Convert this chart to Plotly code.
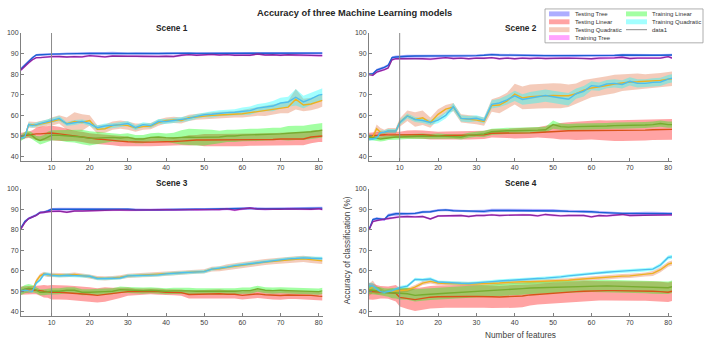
import plotly.graph_objects as go

# ---------------- data ----------------
X = [2, 3, 4, 5, 6, 7, 8, 9, 10,
     12, 14, 16, 18, 20, 22, 24, 26, 28, 30,
     32, 34, 36, 38, 40, 42, 44, 46, 48, 50,
     52, 54, 56, 58, 60, 62, 64, 66, 68, 70,
     72, 74, 76, 78, 80, 81]

TITLE = "Accuracy of three Machine Learning models"
SCENE_TITLES = ["Scene 1", "Scene 2", "Scene 3", "Scene 4"]
MODEL_NAMES = ["Testing Tree", "Testing Linear", "Testing Quadratic",
               "Training Tree", "Training Linear", "Training Quadratic"]
LINE_COLORS = ["#1a5fd1", "#D95319", "#EDB120", "#862a9e", "#77AC30", "#4DBEEE"]
BAND_COLORS = ["rgba(0,0,255,0.32)", "rgba(255,0,0,0.36)", "rgba(217,83,25,0.30)",
               "rgba(255,0,255,0.36)", "rgba(0,255,0,0.36)", "rgba(0,255,255,0.36)"]
MARKER_NAME = "data1"
MARKER_X = 10
XLIM = [2, 81]
YLIM = [38, 100]
XTICKS = [10, 20, 30, 40, 50, 60, 70, 80]
YTICKS = [40, 50, 60, 70, 80, 90, 100]
XLABEL = "Number of features"
YLABEL = "Accuracy of classification (%)"

# ---- Scene 1 ----
s1_test_tree = [82.5, 84.5, 86.2, 88.0, 89.3, 89.5, 89.5, 89.6, 89.7,
                89.8, 90.0, 89.9, 90.0, 90.1, 90.0, 90.1, 90.2, 90.0, 90.0,
                90.1, 90.0, 90.0, 90.0, 90.1, 90.1, 90.0, 90.2, 90.1, 90.1,
                90.0, 90.1, 90.2, 90.1, 90.2, 90.2, 90.1, 90.2, 90.2, 90.2,
                90.2, 90.2, 90.2, 90.2, 90.2, 90.2]
s1_test_tree_hw = [0.8, 0.8, 0.7, 0.6, 0.5, 0.5, 0.5, 0.5, 0.5,
                   0.5, 0.5, 0.5, 0.6, 0.6, 0.6, 0.7, 0.7, 0.6, 0.5,
                   0.5, 0.5, 0.5, 0.5, 0.5, 0.5, 0.5, 0.5, 0.5, 0.5,
                   0.5, 0.5, 0.5, 0.5, 0.5, 0.5, 0.6, 0.6, 0.6, 0.6,
                   0.6, 0.6, 0.6, 0.6, 0.6, 0.6]
s1_test_lin = [50.0, 50.3, 50.5, 50.8, 51.0, 51.0, 51.2, 51.3, 51.4,
               51.0, 50.5, 50.0, 49.5, 48.8, 48.5, 48.2, 48.0, 47.5, 47.2,
               47.0, 47.0, 47.0, 47.0, 47.2, 47.3, 47.5, 47.8, 48.0, 48.0,
               48.0, 48.0, 48.0, 48.0, 48.0, 48.2, 48.2, 48.3, 48.3, 48.5,
               48.5, 48.5, 48.5, 49.5, 50.0, 50.0]
s1_test_lin_hw = [1.5, 1.5, 1.5, 2.0, 3.0, 3.5, 3.5, 3.5, 3.5,
                  3.5, 3.0, 2.5, 2.5, 2.5, 2.5, 2.5, 2.5, 2.5, 2.5,
                  2.0, 2.0, 2.0, 2.0, 2.0, 2.0, 2.0, 2.5, 2.5, 3.0,
                  3.0, 3.0, 3.0, 3.0, 3.0, 3.0, 3.0, 3.0, 3.0, 3.0,
                  3.0, 3.0, 3.0, 3.0, 3.0, 3.0]
s1_test_quad = [49.0, 49.5, 55.5, 55.5, 55.3, 55.8, 56.0, 56.5, 57.0,
                58.0, 56.0, 57.0, 56.5, 57.5, 53.2, 53.5, 55.0, 55.5, 55.0,
                54.0, 54.5, 54.8, 56.5, 57.5, 57.8, 57.5, 58.8, 59.3, 59.8,
                60.0, 60.2, 60.3, 60.5, 60.8, 61.3, 61.8, 62.2, 62.8, 63.5,
                64.0, 67.8, 65.0, 65.5, 66.5, 67.3]
s1_test_quad_hw = [1.0, 1.0, 1.5, 1.5, 1.5, 1.5, 1.5, 1.5, 2.0,
                   2.0, 3.0, 4.5, 4.0, 2.5, 2.0, 2.0, 2.0, 2.0, 2.0,
                   2.0, 1.5, 1.5, 1.5, 1.5, 1.5, 1.5, 1.5, 1.5, 1.5,
                   1.5, 1.5, 1.5, 1.5, 1.8, 2.0, 2.0, 2.5, 2.5, 2.5,
                   3.0, 5.0, 3.0, 3.0, 3.0, 3.0]
s1_train_tree = [82.0, 84.0, 85.5, 87.0, 88.0, 88.0, 88.2, 88.3, 88.5,
                 88.6, 88.3, 88.5, 88.4, 89.0, 88.6, 88.4, 88.8, 88.6, 88.7,
                 88.7, 88.6, 88.8, 88.6, 88.7, 88.6, 89.2, 89.5, 89.2, 89.3,
                 89.6, 89.3, 89.5, 89.2, 89.3, 89.2, 89.8, 89.3, 89.4, 89.2,
                 89.4, 89.2, 89.3, 89.1, 89.0, 89.0]
s1_train_tree_hw = [0.6, 0.6, 0.6, 0.5, 0.5, 0.5, 0.5, 0.5, 0.5,
                    0.5, 0.5, 0.5, 0.5, 0.5, 0.5, 0.5, 0.5, 0.5, 0.5,
                    0.5, 0.5, 0.5, 0.5, 0.5, 0.5, 0.5, 0.5, 0.5, 0.5,
                    0.5, 0.5, 0.5, 0.5, 0.5, 0.5, 0.5, 0.5, 0.5, 0.5,
                    0.5, 0.5, 0.5, 0.5, 0.5, 0.5]
s1_train_lin = [49.0, 50.5, 51.0, 50.0, 48.5, 47.8, 48.5, 49.5, 50.3,
                50.3, 50.0, 49.8, 49.5, 48.8, 49.0, 49.2, 49.3, 49.0, 49.3,
                48.5, 48.5, 49.3, 49.5, 49.2, 49.0, 49.3, 49.5, 49.3, 49.3,
                49.5, 49.5, 50.0, 50.0, 50.4, 50.5, 50.5, 50.8, 51.0, 51.0,
                51.3, 51.5, 51.5, 52.0, 52.5, 52.8]
s1_train_lin_hw = [1.5, 1.5, 1.5, 1.5, 1.5, 2.0, 2.0, 2.5, 2.5,
                   2.5, 3.0, 3.0, 3.5, 3.5, 3.0, 2.5, 2.0, 2.0, 2.0,
                   2.0, 2.0, 2.0, 2.0, 2.0, 2.5, 3.5, 4.0, 4.0, 4.0,
                   3.5, 3.0, 3.0, 3.0, 3.0, 3.0, 3.0, 3.0, 3.0, 3.0,
                   3.5, 3.5, 3.5, 3.5, 3.5, 3.5]
s1_train_quad = [49.0, 49.5, 55.5, 55.0, 55.5, 56.0, 56.5, 57.0, 57.5,
                 58.5, 55.8, 56.5, 57.0, 56.0, 54.0, 54.8, 55.0, 55.5, 56.0,
                 54.0, 55.5, 55.0, 57.0, 57.0, 57.5, 58.0, 58.5, 59.5, 60.3,
                 60.5, 61.0, 61.3, 61.5, 62.0, 62.3, 63.5, 64.0, 64.5, 66.0,
                 66.5, 68.8, 66.5, 68.0, 69.8, 70.2]
s1_train_quad_hw = [0.8, 0.8, 1.0, 1.0, 1.0, 1.0, 1.0, 1.0, 1.0,
                    1.2, 1.0, 1.2, 1.0, 1.2, 1.2, 1.2, 1.2, 1.2, 1.2,
                    1.2, 1.2, 1.2, 1.2, 1.2, 1.2, 1.2, 1.2, 1.2, 1.2,
                    1.5, 1.5, 1.5, 1.5, 1.8, 2.0, 2.0, 2.0, 2.5, 2.5,
                    2.5, 4.0, 3.0, 3.0, 3.0, 3.0]

# ---- Scene 2 ----
s2_test_tree = [80.0, 80.2, 82.0, 82.5, 83.3, 84.3, 88.0, 88.3, 88.5,
                88.7, 88.8, 88.8, 88.8, 88.9, 88.8, 88.9, 88.9, 88.9, 89.0,
                89.2, 89.5, 89.3, 89.2, 89.1, 89.0, 89.0, 89.0, 89.0, 89.0,
                89.0, 89.0, 88.9, 89.0, 89.0, 89.0, 89.0, 89.1, 89.3, 89.2,
                89.1, 89.1, 89.2, 89.2, 89.3, 89.3]
s2_test_tree_hw = [0.5, 0.5, 0.6, 0.6, 0.6, 0.6, 0.7, 0.7, 0.7,
                   0.7, 0.6, 0.6, 0.6, 0.6, 0.6, 0.6, 0.6, 0.6, 0.6,
                   0.6, 0.6, 0.6, 0.6, 0.6, 0.6, 0.6, 0.6, 0.6, 0.6,
                   0.6, 0.6, 0.6, 0.6, 0.6, 0.6, 0.6, 0.6, 0.6, 0.6,
                   0.6, 0.6, 0.6, 0.6, 0.6, 0.6]
s2_test_lin = [50.0, 50.2, 50.3, 50.5, 50.6, 50.5, 50.5, 50.5, 50.5,
               50.8, 50.8, 50.6, 50.3, 50.0, 50.2, 50.3, 50.3, 50.3, 50.3,
               50.5, 51.3, 51.3, 51.2, 51.2, 51.3, 51.5, 51.7, 52.0, 52.3,
               52.3, 52.5, 52.5, 52.7, 52.8, 52.8, 52.7, 52.6, 52.5, 52.5,
               52.6, 52.8, 53.0, 53.0, 53.2, 53.2]
s2_test_lin_hw = [1.5, 1.5, 1.5, 1.5, 1.5, 1.5, 1.5, 1.5, 1.5,
                  1.8, 2.0, 2.0, 2.0, 2.0, 2.0, 2.0, 2.0, 2.0, 2.0,
                  2.0, 2.0, 2.0, 2.2, 2.5, 2.5, 2.5, 2.5, 3.0, 3.5,
                  4.0, 4.2, 4.5, 4.5, 4.5, 4.8, 4.8, 5.0, 5.0, 5.0,
                  5.0, 5.0, 5.0, 5.0, 5.0, 5.0]
s2_test_quad = [49.2, 49.5, 53.5, 51.8, 51.5, 52.4, 52.4, 52.4, 56.5,
                59.8, 58.0, 58.8, 56.5, 60.5, 63.0, 64.0, 58.5, 58.2, 57.7,
                57.0, 64.8, 65.0, 67.0, 70.3, 68.5, 69.0, 69.3, 69.5, 69.6,
                69.5, 69.5, 70.5, 72.2, 73.3, 73.8, 74.5, 75.2, 75.8, 76.2,
                76.3, 76.5, 76.6, 77.0, 77.6, 77.8]
s2_test_quad_hw = [1.5, 1.5, 2.0, 2.0, 1.5, 1.5, 1.5, 1.5, 2.0,
                   2.5, 3.5, 3.5, 2.5, 2.5, 2.0, 2.0, 2.0, 2.0, 2.0,
                   2.0, 3.0, 4.0, 4.0, 5.0, 5.5, 6.0, 6.0, 6.0, 6.0,
                   6.0, 5.5, 5.0, 5.0, 4.5, 4.5, 4.5, 4.5, 4.0, 4.0,
                   4.0, 3.5, 3.5, 3.5, 3.5, 3.5]
s2_train_tree = [79.8, 79.5, 81.0, 81.5, 82.2, 83.0, 87.0, 87.5, 87.5,
                 87.6, 87.8, 87.5, 87.3, 87.8, 88.0, 87.6, 87.8, 87.5, 87.8,
                 87.7, 88.0, 87.5, 87.8, 87.5, 87.8, 87.6, 87.8, 87.6, 87.8,
                 87.7, 87.8, 87.7, 87.8, 87.5, 87.8, 87.7, 87.9, 88.2, 87.6,
                 87.8, 87.7, 87.9, 87.8, 88.5, 87.8]
s2_train_tree_hw = [0.5, 0.5, 0.5, 0.5, 0.5, 0.5, 0.5, 0.5, 0.5,
                    0.5, 0.5, 0.5, 0.5, 0.5, 0.5, 0.5, 0.5, 0.5, 0.5,
                    0.5, 0.5, 0.5, 0.5, 0.5, 0.5, 0.5, 0.5, 0.5, 0.5,
                    0.5, 0.5, 0.5, 0.5, 0.5, 0.5, 0.5, 0.5, 0.5, 0.5,
                    0.5, 0.5, 0.5, 0.5, 0.5, 0.5]
s2_train_lin = [49.5, 49.0, 48.8, 48.5, 48.8, 49.2, 49.5, 49.5, 49.5,
                49.7, 50.0, 50.0, 49.8, 50.0, 49.8, 49.8, 49.5, 50.3, 50.8,
                51.0, 52.0, 52.3, 52.5, 52.5, 52.5, 52.7, 52.8, 53.0, 55.5,
                54.5, 54.3, 54.5, 54.5, 54.5, 54.6, 54.8, 55.0, 55.0, 55.0,
                55.2, 55.3, 55.5, 56.0, 55.5, 55.5]
s2_train_lin_hw = [1.2, 1.2, 1.2, 1.2, 1.2, 1.2, 1.2, 1.2, 1.2,
                   1.2, 1.2, 1.2, 1.2, 1.2, 1.2, 1.2, 1.2, 1.2, 1.2,
                   1.5, 1.5, 1.5, 1.5, 1.5, 1.5, 1.5, 1.5, 1.5, 2.0,
                   1.5, 1.5, 1.5, 1.5, 1.5, 1.5, 1.5, 1.5, 1.5, 1.5,
                   1.5, 1.5, 1.5, 1.5, 1.5, 1.5]
s2_train_quad = [48.5, 48.5, 49.0, 51.6, 51.8, 52.4, 52.4, 52.4, 56.4,
                 59.7, 58.0, 57.5, 56.5, 57.7, 60.0, 64.2, 58.5, 58.2, 58.6,
                 57.5, 65.3, 66.0, 67.5, 69.5, 67.7, 68.5, 69.0, 69.6, 69.0,
                 68.5, 67.8, 70.5, 71.7, 74.4, 74.0, 75.2, 75.5, 75.0, 76.5,
                 75.5, 75.5, 76.0, 76.2, 77.6, 78.0]
s2_train_quad_hw = [0.8, 0.8, 1.0, 1.0, 1.0, 1.0, 1.0, 1.0, 1.2,
                    1.2, 1.2, 1.2, 1.2, 1.5, 1.5, 1.8, 1.5, 1.5, 1.5,
                    1.5, 2.0, 2.0, 2.2, 2.5, 2.5, 2.8, 3.0, 3.0, 3.0,
                    3.0, 3.0, 2.5, 2.5, 2.2, 2.0, 2.0, 2.0, 2.0, 2.0,
                    2.0, 2.0, 2.0, 2.0, 2.0, 2.0]

# ---- Scene 3 ----
s3_test_tree = [81.0, 84.0, 85.5, 86.3, 87.2, 88.5, 88.6, 89.2, 90.0,
                90.1, 90.1, 90.0, 90.0, 90.1, 90.2, 90.1, 90.2, 90.0, 90.0,
                89.8, 89.6, 89.7, 89.8, 89.9, 90.0, 90.0, 90.1, 90.0, 90.0,
                90.1, 90.0, 90.0, 90.2, 90.2, 90.5, 90.3, 90.2, 90.3, 90.3,
                90.3, 90.4, 90.5, 90.6, 90.6, 90.6]
s3_test_tree_hw = [0.6, 0.6, 0.6, 0.6, 0.6, 0.6, 0.6, 0.6, 0.6,
                   0.6, 0.6, 0.6, 0.6, 0.6, 0.6, 0.6, 0.6, 0.6, 0.6,
                   0.6, 0.6, 0.6, 0.6, 0.6, 0.6, 0.6, 0.6, 0.6, 0.6,
                   0.6, 0.6, 0.6, 0.6, 0.6, 0.6, 0.7, 0.7, 0.7, 0.7,
                   0.7, 0.7, 0.7, 0.7, 0.7, 0.7]
s3_test_lin = [50.3, 50.5, 50.5, 50.5, 50.5, 50.3, 50.0, 49.8, 49.5,
               49.5, 49.3, 49.0, 48.8, 48.4, 48.0, 48.4, 48.7, 49.2, 49.8,
               49.8, 49.8, 50.0, 49.8, 49.5, 49.5, 49.3, 48.4, 48.5, 48.7,
               48.7, 48.8, 48.5, 48.5, 48.0, 48.3, 48.7, 48.3, 48.0, 47.9,
               48.2, 48.2, 48.3, 48.0, 47.6, 47.5]
s3_test_lin_hw = [2.0, 2.0, 2.0, 2.0, 2.0, 2.5, 3.0, 3.0, 3.5,
                  3.5, 3.5, 3.5, 3.5, 3.5, 3.5, 3.5, 3.0, 2.5, 2.0,
                  1.5, 1.5, 1.5, 1.5, 1.5, 1.5, 1.5, 2.0, 2.0, 2.0,
                  2.0, 2.0, 2.0, 2.0, 2.0, 2.0, 2.0, 2.0, 2.0, 2.0,
                  2.0, 2.0, 2.0, 2.0, 2.0, 2.0]
s3_test_quad = [50.0, 50.5, 50.0, 50.5, 55.0, 57.5, 58.5, 58.0, 58.0,
                57.8, 57.8, 58.2, 57.8, 57.2, 56.5, 56.3, 56.5, 56.8, 57.5,
                57.7, 57.8, 58.0, 58.2, 58.5, 58.7, 59.0, 59.2, 59.5, 59.7,
                60.8, 61.0, 61.7, 62.3, 62.6, 63.3, 63.8, 64.3, 64.7, 65.0,
                65.3, 65.6, 65.8, 65.3, 64.9, 64.8]
s3_test_quad_hw = [1.0, 1.0, 1.0, 1.0, 1.0, 1.0, 1.0, 1.0, 1.0,
                   1.0, 1.0, 1.0, 1.0, 1.0, 1.0, 1.0, 1.0, 1.0, 1.0,
                   1.0, 1.0, 1.0, 1.0, 1.0, 1.0, 1.0, 1.0, 1.0, 1.0,
                   1.2, 1.2, 1.5, 1.5, 1.5, 1.5, 1.5, 1.5, 1.5, 1.5,
                   1.5, 1.5, 1.5, 1.5, 1.5, 1.5]
s3_train_tree = [80.5, 83.5, 85.5, 86.3, 87.0, 88.3, 88.4, 88.8, 89.0,
                 89.1, 88.6, 89.2, 89.2, 89.3, 89.4, 89.6, 89.8, 89.7, 89.6,
                 89.7, 89.5, 89.6, 89.7, 89.8, 89.7, 89.7, 90.0, 89.8, 89.8,
                 90.0, 89.9, 90.2, 89.6, 90.2, 90.6, 90.1, 90.0, 90.1, 90.0,
                 90.2, 90.1, 90.2, 90.0, 90.3, 89.9]
s3_train_tree_hw = [0.5, 0.5, 0.5, 0.5, 0.5, 0.5, 0.5, 0.5, 0.5,
                    0.5, 0.5, 0.5, 0.5, 0.5, 0.5, 0.5, 0.5, 0.5, 0.5,
                    0.5, 0.5, 0.5, 0.5, 0.5, 0.5, 0.5, 0.5, 0.5, 0.5,
                    0.5, 0.5, 0.5, 0.5, 0.5, 0.5, 0.5, 0.5, 0.5, 0.5,
                    0.5, 0.5, 0.5, 0.5, 0.5, 0.5]
s3_train_lin = [50.0, 51.0, 51.5, 51.3, 50.5, 49.5, 49.5, 49.8, 50.0,
                50.0, 50.5, 50.5, 49.5, 49.5, 49.8, 49.8, 50.0, 50.8, 50.6,
                50.3, 50.3, 50.5, 50.2, 50.0, 50.2, 50.3, 50.2, 50.0, 50.0,
                49.8, 49.8, 49.8, 50.0, 50.3, 50.3, 51.2, 50.5, 50.3, 50.5,
                50.3, 50.2, 50.0, 50.0, 49.8, 50.2]
s3_train_lin_hw = [2.0, 2.0, 2.0, 1.8, 1.5, 1.5, 1.5, 1.5, 1.5,
                   1.5, 1.5, 1.5, 1.5, 1.5, 1.5, 1.5, 1.5, 1.5, 1.5,
                   1.5, 1.5, 1.5, 1.5, 1.5, 1.5, 1.5, 1.5, 1.5, 1.5,
                   1.5, 1.5, 1.5, 1.5, 1.5, 1.5, 1.5, 1.5, 1.5, 1.5,
                   1.5, 1.5, 1.5, 1.5, 1.5, 1.5]
s3_train_quad = [50.0, 50.5, 50.2, 50.0, 54.0, 55.5, 58.3, 58.3, 57.8,
                 57.5, 57.8, 57.8, 57.5, 57.3, 56.2, 56.2, 56.3, 56.5, 57.5,
                 57.6, 57.5, 57.8, 58.0, 58.5, 58.6, 59.0, 59.2, 59.5, 59.6,
                 60.8, 61.2, 61.8, 62.5, 63.0, 63.5, 64.0, 64.6, 65.0, 65.5,
                 65.8, 66.0, 66.3, 66.1, 66.0, 66.0]
s3_train_quad_hw = [0.8, 0.8, 0.8, 0.8, 0.8, 0.8, 0.8, 0.8, 0.8,
                    0.8, 0.8, 0.8, 0.8, 0.8, 0.8, 0.8, 0.8, 0.8, 0.8,
                    0.8, 0.8, 0.8, 0.8, 0.8, 0.8, 0.8, 0.8, 0.8, 0.8,
                    0.8, 0.8, 0.8, 0.8, 0.8, 0.8, 0.8, 0.8, 0.8, 0.8,
                    0.8, 0.8, 0.8, 0.8, 0.8, 0.8]

# ---- Scene 4 ----
s4_test_tree = [80.0, 85.0, 85.5, 85.3, 85.0, 87.0, 87.5, 87.8, 87.8,
                87.8, 88.0, 88.7, 88.8, 89.5, 89.7, 89.3, 89.2, 89.0, 89.0,
                89.0, 89.5, 89.5, 89.3, 89.3, 89.3, 89.5, 89.5, 89.5, 89.4,
                89.2, 89.0, 89.0, 89.0, 88.8, 88.5, 88.3, 88.0, 88.0, 88.0,
                88.0, 88.0, 88.0, 88.0, 88.0, 87.8]
s4_test_tree_hw = [0.5, 0.6, 0.6, 0.6, 0.6, 0.8, 0.8, 0.8, 0.8,
                   0.6, 0.6, 0.6, 0.6, 0.6, 0.6, 0.6, 0.6, 0.6, 0.6,
                   0.8, 0.8, 0.8, 0.8, 0.8, 0.8, 0.8, 0.8, 0.8, 0.8,
                   0.6, 0.6, 0.6, 0.6, 0.6, 0.6, 0.6, 0.6, 0.6, 0.6,
                   0.8, 0.8, 0.8, 0.8, 0.8, 0.8]
s4_test_lin = [50.0, 49.8, 49.6, 49.5, 49.4, 49.3, 49.2, 49.0, 47.0,
               46.3, 45.9, 46.5, 47.1, 47.3, 47.4, 47.4, 47.4, 47.4, 47.4,
               47.5, 47.3, 47.2, 47.3, 47.4, 47.7, 48.2, 48.5, 48.9, 49.2,
               49.4, 49.6, 49.8, 50.0, 50.2, 50.3, 50.3, 50.3, 50.3, 50.3,
               50.2, 50.1, 50.0, 49.8, 49.5, 50.0]
s4_test_lin_hw = [4.0, 4.0, 3.5, 3.0, 3.0, 3.0, 3.5, 4.0, 4.5,
                  5.0, 5.5, 5.5, 5.5, 5.5, 5.5, 5.5, 5.5, 5.5, 5.5,
                  5.5, 5.5, 5.5, 5.5, 5.5, 5.5, 5.2, 5.0, 5.0, 5.0,
                  5.0, 5.0, 5.0, 5.0, 4.8, 4.8, 4.8, 4.8, 4.8, 4.8,
                  4.8, 4.8, 4.8, 4.8, 4.8, 4.8]
s4_test_quad = [50.7, 52.2, 50.5, 50.0, 49.5, 49.8, 50.0, 50.2, 50.3,
                50.6, 52.0, 54.0, 54.8, 54.0, 53.8, 53.6, 53.5, 53.5, 53.5,
                53.6, 53.8, 54.0, 54.3, 54.6, 54.6, 54.6, 54.7, 54.8, 55.0,
                55.1, 55.4, 55.7, 56.0, 56.3, 56.7, 57.0, 57.2, 57.4, 57.5,
                57.8, 58.2, 58.7, 60.5, 63.2, 63.8]
s4_test_quad_hw = [3.0, 3.0, 2.0, 1.5, 1.0, 1.0, 1.0, 1.0, 1.0,
                   1.0, 1.0, 1.0, 1.0, 1.0, 1.0, 1.0, 1.0, 1.0, 1.0,
                   1.0, 1.0, 1.0, 1.0, 1.0, 1.0, 1.0, 1.0, 1.0, 1.0,
                   1.0, 1.0, 1.0, 1.0, 1.0, 1.0, 1.0, 1.0, 1.0, 1.0,
                   1.0, 1.0, 1.2, 1.2, 1.2, 1.2]
s4_train_tree = [80.0, 84.0, 84.5, 85.0, 85.2, 85.5, 85.8, 86.0, 86.3,
                 86.5, 86.3, 86.5, 85.3, 86.7, 86.8, 86.8, 87.0, 86.5, 87.0,
                 87.0, 87.3, 87.0, 87.2, 87.2, 87.3, 87.2, 86.8, 87.5, 87.0,
                 86.8, 87.0, 87.0, 87.0, 86.3, 87.0, 86.8, 87.2, 87.5, 87.0,
                 87.0, 87.2, 87.3, 87.2, 87.2, 87.3]
s4_train_tree_hw = [0.5, 0.5, 0.5, 0.5, 0.5, 0.5, 0.5, 0.5, 0.5,
                    0.5, 0.5, 0.5, 0.5, 0.5, 0.5, 0.5, 0.5, 0.5, 0.5,
                    0.5, 0.5, 0.5, 0.5, 0.5, 0.5, 0.5, 0.5, 0.5, 0.5,
                    0.5, 0.5, 0.5, 0.5, 0.5, 0.5, 0.5, 0.5, 0.5, 0.5,
                    0.5, 0.5, 0.5, 0.5, 0.5, 0.5]
s4_train_lin = [50.6, 50.5, 50.3, 50.0, 49.5, 49.3, 49.1, 49.0, 49.0,
                48.8, 48.0, 48.3, 48.7, 48.8, 49.0, 49.2, 49.4, 49.7, 50.0,
                50.3, 50.5, 50.6, 50.9, 51.1, 51.3, 51.6, 51.7, 51.9, 52.0,
                52.2, 52.3, 52.4, 52.5, 52.6, 52.7, 52.6, 52.5, 52.4, 52.2,
                52.1, 52.0, 51.8, 51.6, 51.7, 52.2]
s4_train_lin_hw = [2.0, 2.0, 2.0, 2.0, 2.0, 2.0, 2.5, 2.5, 3.0,
                   3.0, 3.0, 3.0, 3.0, 3.0, 3.0, 3.0, 3.0, 3.0, 3.0,
                   3.0, 3.0, 3.0, 3.0, 3.0, 3.0, 3.0, 3.0, 3.0, 3.0,
                   3.0, 3.0, 3.0, 3.0, 3.0, 3.0, 3.0, 3.0, 3.0, 3.0,
                   3.0, 3.0, 3.0, 3.0, 3.0, 3.0]
s4_train_quad = [52.8, 52.5, 51.0, 49.8, 49.5, 49.8, 50.2, 51.0, 51.8,
                 52.5, 55.8, 55.6, 56.0, 54.5, 54.2, 54.0, 53.9, 53.8, 54.2,
                 54.4, 54.7, 55.0, 55.3, 55.6, 55.9, 56.0, 56.2, 56.4, 56.6,
                 57.0, 57.5, 57.9, 58.4, 58.8, 59.1, 59.3, 59.6, 59.8, 60.0,
                 60.1, 60.3, 60.8, 62.8, 66.5, 66.8]
s4_train_quad_hw = [1.5, 1.5, 1.2, 0.8, 0.8, 0.8, 0.8, 0.8, 0.8,
                    0.8, 0.8, 0.8, 0.8, 0.8, 0.8, 0.8, 0.8, 0.8, 0.8,
                    0.8, 0.8, 0.8, 0.8, 0.8, 0.8, 0.8, 0.8, 0.8, 0.8,
                    0.8, 0.8, 0.8, 0.8, 0.8, 0.8, 0.8, 0.8, 0.8, 0.8,
                    0.8, 0.8, 0.8, 1.0, 1.0, 1.0]

# order per scene follows MODEL_NAMES
SCENES = [
    [(s1_test_tree, s1_test_tree_hw), (s1_test_lin, s1_test_lin_hw), (s1_test_quad, s1_test_quad_hw),
     (s1_train_tree, s1_train_tree_hw), (s1_train_lin, s1_train_lin_hw), (s1_train_quad, s1_train_quad_hw)],
    [(s2_test_tree, s2_test_tree_hw), (s2_test_lin, s2_test_lin_hw), (s2_test_quad, s2_test_quad_hw),
     (s2_train_tree, s2_train_tree_hw), (s2_train_lin, s2_train_lin_hw), (s2_train_quad, s2_train_quad_hw)],
    [(s3_test_tree, s3_test_tree_hw), (s3_test_lin, s3_test_lin_hw), (s3_test_quad, s3_test_quad_hw),
     (s3_train_tree, s3_train_tree_hw), (s3_train_lin, s3_train_lin_hw), (s3_train_quad, s3_train_quad_hw)],
    [(s4_test_tree, s4_test_tree_hw), (s4_test_lin, s4_test_lin_hw), (s4_test_quad, s4_test_quad_hw),
     (s4_train_tree, s4_train_tree_hw), (s4_train_lin, s4_train_lin_hw), (s4_train_quad, s4_train_quad_hw)],
]

for si, sc in enumerate(SCENES):
    for mi, (m, h) in enumerate(sc):
        assert len(m) == len(X) and len(h) == len(X), (si, mi, len(m), len(h))

# ---------------- layout geometry (pixels) ----------------
W, H = 708, 343
FONT = "Liberation Sans, Arial, Helvetica, sans-serif"
AX_COLOR = "#808080"
TXT_COLOR = "#404040"

def px(x):
    return x / W

def py(y):
    return 1 - y / H

X_DOMAINS = [[px(21), px(322.5)], [px(369), px(672)]]
Y_DOMAINS = [[py(158.5), py(29.3)], [py(315.5), py(187)]]
# (col, row) for each scene
POS = [(0, 0), (1, 0), (0, 1), (1, 1)]

fig = go.Figure()

for si, sc in enumerate(SCENES):
    ax = "" if si == 0 else str(si + 1)
    xa, ya = "x" + ax, "y" + ax
    # bands
    for mi, (m, h) in enumerate(sc):
        upper = [a + b for a, b in zip(m, h)]
        lower = [a - b for a, b in zip(m, h)]
        fig.add_trace(go.Scatter(
            x=X + X[::-1], y=upper + lower[::-1], fill="toself",
            fillcolor=BAND_COLORS[mi], line=dict(width=0), mode="lines",
            name=MODEL_NAMES[mi], showlegend=False, hoverinfo="skip",
            xaxis=xa, yaxis=ya))
    # mean lines
    for mi, (m, h) in enumerate(sc):
        fig.add_trace(go.Scatter(
            x=X, y=m, mode="lines", line=dict(color=LINE_COLORS[mi], width=1.4),
            name=MODEL_NAMES[mi], showlegend=False, xaxis=xa, yaxis=ya))
    # marker line
    fig.add_trace(go.Scatter(
        x=[MARKER_X, MARKER_X], y=YLIM, mode="lines",
        line=dict(color="#8c8c8c", width=1), name=MARKER_NAME,
        showlegend=False, xaxis=xa, yaxis=ya))

layout = dict(
    width=W, height=H, autosize=False,
    margin=dict(l=0, r=0, t=0, b=0, pad=0),
    paper_bgcolor="white", plot_bgcolor="white",
    showlegend=False,
    font=dict(family=FONT, size=7, color=TXT_COLOR),
)

axis_common = dict(showgrid=False, zeroline=False, showline=True, linecolor=AX_COLOR,
                   linewidth=1, ticks="inside", ticklen=3, tickcolor=AX_COLOR,
                   tickfont=dict(family=FONT, size=7, color=TXT_COLOR), mirror=False)

for si in range(4):
    c, r = POS[si]
    ax = "" if si == 0 else str(si + 1)
    layout["xaxis" + ax] = dict(axis_common, domain=X_DOMAINS[c], range=XLIM,
                                tickvals=XTICKS, anchor="y" + ax)
    layout["yaxis" + ax] = dict(axis_common, domain=Y_DOMAINS[r], range=YLIM,
                                tickvals=YTICKS, anchor="x" + ax)

annotations = []
annotations.append(dict(text="<b>" + TITLE + "</b>", x=px(354), y=py(9.3),
                        xref="paper", yref="paper", showarrow=False,
                        xanchor="center", yanchor="middle",
                        font=dict(family=FONT, size=9.3, color="#262626")))
SCENE_TITLE_POS = [(171.7, 24), (520.5, 24), (171.7, 181.3), (520.5, 181.3)]
for si, t in enumerate(SCENE_TITLES):
    annotations.append(dict(text="<b>" + t + "</b>", x=px(SCENE_TITLE_POS[si][0]),
                            y=py(SCENE_TITLE_POS[si][1]), xref="paper", yref="paper",
                            showarrow=False, xanchor="center", yanchor="middle",
                            font=dict(family=FONT, size=8.3, color="#262626")))
annotations.append(dict(text=XLABEL, x=px(520.7), y=py(335.3), xref="paper", yref="paper",
                        showarrow=False, xanchor="center", yanchor="middle",
                        font=dict(family=FONT, size=8.3, color=TXT_COLOR)))
annotations.append(dict(text=YLABEL, x=px(346.7), y=py(249.5), xref="paper", yref="paper",
                        showarrow=False, xanchor="center", yanchor="middle", textangle=-90,
                        font=dict(family=FONT, size=8.3, color=TXT_COLOR)))

# ---------------- legend (manual, two columns) ----------------
shapes = []
shapes.append(dict(type="rect", xref="paper", yref="paper",
                   x0=px(545), x1=px(703), y0=py(39.3), y1=py(5),
                   line=dict(color="#9a9a9a", width=0.8), fillcolor="white", layer="above"))
LEG_COL1 = [0, 1, 2, 3]
LEG_COL2 = [4, 5]
ROWS = [10, 18, 26, 34]
for ri, mi in enumerate(LEG_COL1):
    shapes.append(dict(type="rect", xref="paper", yref="paper",
                       x0=px(549), x1=px(569.5), y0=py(ROWS[ri] + 2.5), y1=py(ROWS[ri] - 2.5),
                       line=dict(width=0), fillcolor=BAND_COLORS[mi], layer="above"))
    annotations.append(dict(text=MODEL_NAMES[mi], x=px(573), y=py(ROWS[ri]), xref="paper",
                            yref="paper", showarrow=False, xanchor="left", yanchor="middle",
                            font=dict(family=FONT, size=6, color="#333333")))
for ri, mi in enumerate(LEG_COL2):
    shapes.append(dict(type="rect", xref="paper", yref="paper",
                       x0=px(626), x1=px(647), y0=py(ROWS[ri] + 2.5), y1=py(ROWS[ri] - 2.5),
                       line=dict(width=0), fillcolor=BAND_COLORS[mi], layer="above"))
    annotations.append(dict(text=MODEL_NAMES[mi], x=px(650), y=py(ROWS[ri]), xref="paper",
                            yref="paper", showarrow=False, xanchor="left", yanchor="middle",
                            font=dict(family=FONT, size=6, color="#333333")))
shapes.append(dict(type="line", xref="paper", yref="paper",
                   x0=px(626), x1=px(647), y0=py(ROWS[2]), y1=py(ROWS[2]),
                   line=dict(color="#8c8c8c", width=1), layer="above"))
annotations.append(dict(text=MARKER_NAME, x=px(650), y=py(ROWS[2]), xref="paper",
                        yref="paper", showarrow=False, xanchor="left", yanchor="middle",
                        font=dict(family=FONT, size=6, color="#333333")))

layout["annotations"] = annotations
layout["shapes"] = shapes
fig.update_layout(**layout)

fig.write_html("out.html")
